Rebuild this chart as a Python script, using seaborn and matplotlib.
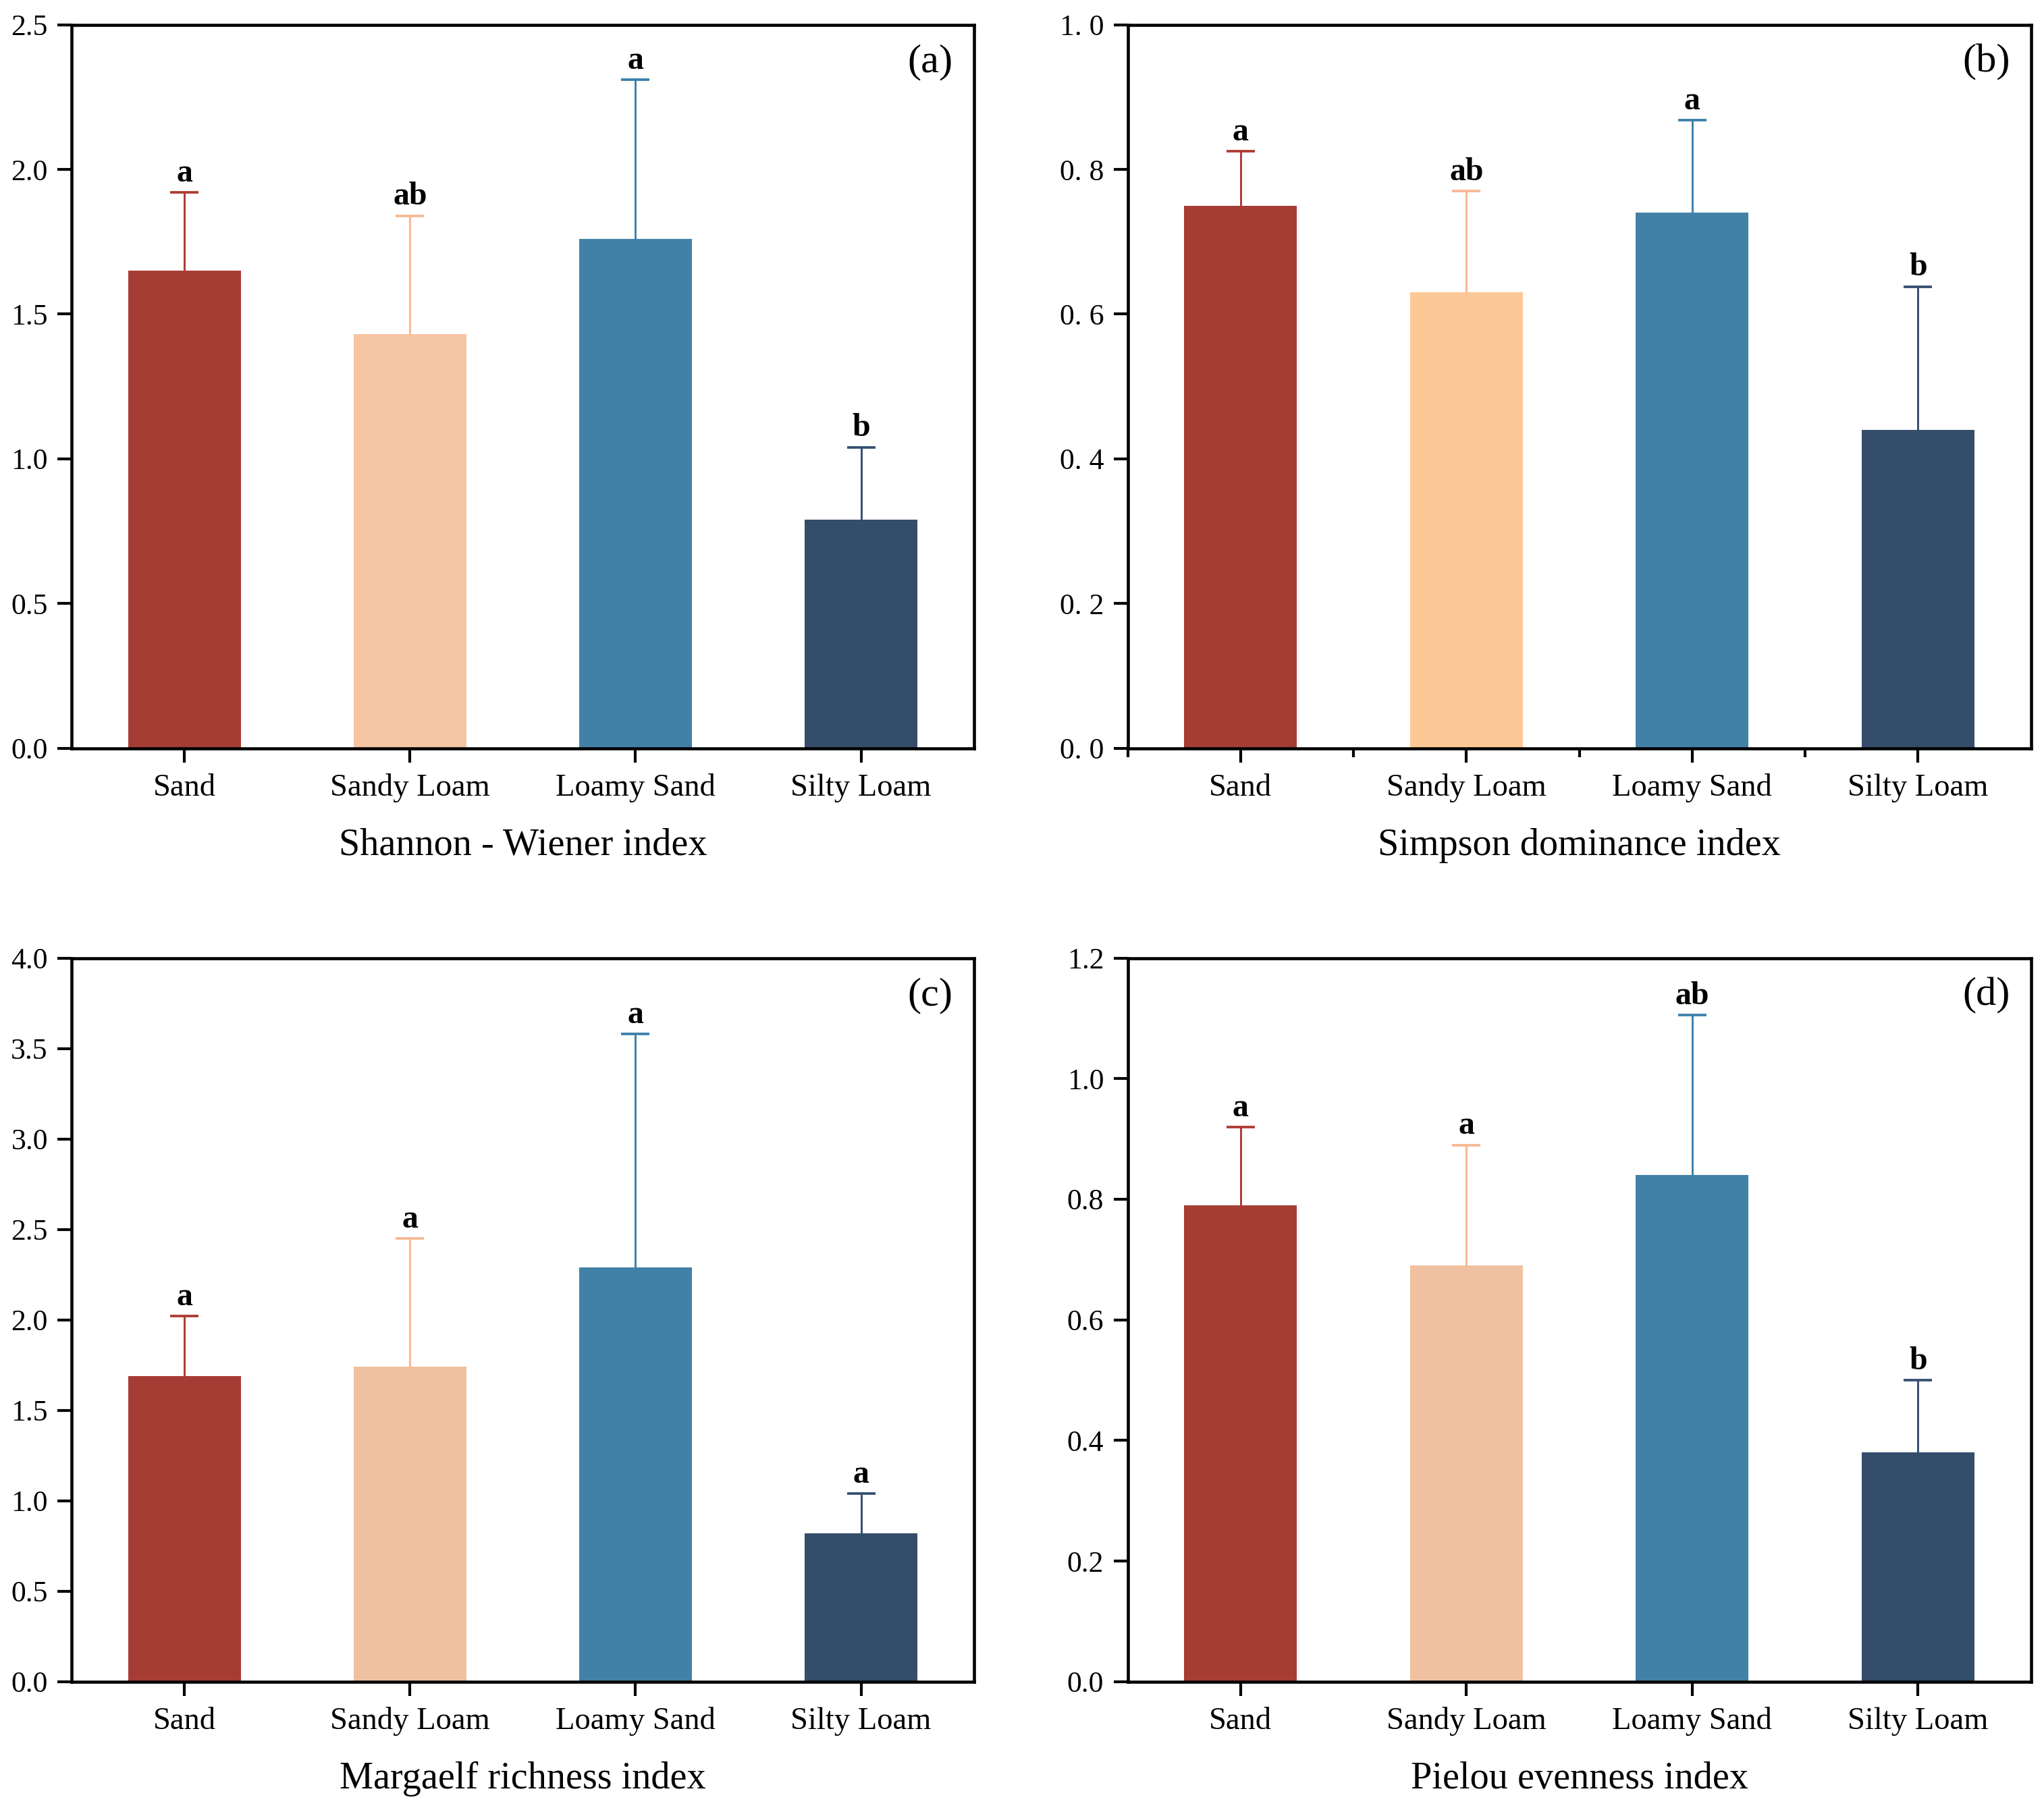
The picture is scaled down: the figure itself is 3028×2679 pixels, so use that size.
import numpy as np
import pandas as pd
import matplotlib
matplotlib.use("Agg")
import matplotlib.pyplot as plt
import seaborn as sns

# soil texture groups
soils = ["Sand", "Sandy Loam", "Loamy Sand", "Silty Loam"]

# mean values and upper error (SD) per index
shannon = [1.65, 1.43, 1.76, 0.79]
shannon_err = [0.27, 0.41, 0.55, 0.25]
shannon_sig = ["a", "ab", "a", "b"]

simpson = [0.75, 0.63, 0.74, 0.44]
simpson_err = [0.075, 0.14, 0.128, 0.198]
simpson_sig = ["a", "ab", "a", "b"]

margalef = [1.69, 1.74, 2.29, 0.82]
margalef_err = [0.33, 0.71, 1.29, 0.22]
margalef_sig = ["a", "a", "a", "a"]

pielou = [0.79, 0.69, 0.84, 0.38]
pielou_err = [0.13, 0.20, 0.265, 0.12]
pielou_sig = ["a", "a", "ab", "b"]

sns.set_style("ticks")
plt.rcParams["font.family"] = ["Liberation Serif", "DejaVu Serif"]
plt.rcParams["text.color"] = "black"
plt.rcParams["axes.labelcolor"] = "black"
plt.rcParams["xtick.color"] = "black"
plt.rcParams["ytick.color"] = "black"

fig = plt.figure(figsize=(3028 / 300, 2679 / 300), dpi=300)

panels = [
    # values, errors, letters, xlabel, tag, ylim, step, rect, peach colour, spaced labels
    (shannon, shannon_err, shannon_sig, "Shannon - Wiener index", "(a)", 2.5, 0.5,
     [0.0351, 0.5862, 0.4413, 0.4001], "#F6C5A3", False),
    (simpson, simpson_err, simpson_sig, "Simpson dominance index", "(b)", 1.0, 0.2,
     [0.5517, 0.5862, 0.4419, 0.4001], "#FCC996", True),
    (margalef, margalef_err, margalef_sig, "Margaelf richness index", "(c)", 4.0, 0.5,
     [0.0351, 0.0699, 0.4413, 0.4002], "#F0C1A0", False),
    (pielou, pielou_err, pielou_sig, "Pielou evenness index", "(d)", 1.2, 0.2,
     [0.5517, 0.0699, 0.4419, 0.4002], "#F0C1A0", False),
]

for vals, errs, sig, xlab, tag, ymax, step, rect, peach, spaced in panels:
    ax = fig.add_axes(rect)
    bar_cols = ["#A63D35", peach, "#4281A6", "#344D6B"]
    err_cols = ["#AE3A31", "#F7B893", "#3A80AA", "#334E70"]
    df = pd.DataFrame({"soil": soils, "value": vals})
    sns.barplot(data=df, x="soil", y="value", hue="soil", palette=bar_cols,
                width=0.5, legend=False, ax=ax, saturation=1, linewidth=0)
    for i in range(len(soils)):
        eb = ax.errorbar(i, vals[i], yerr=[[0], [errs[i]]], color=err_cols[i],
                         elinewidth=0.7, capsize=5, capthick=0.9, zorder=3)
        # only the upper cap is drawn in the original
        eb[1][0].set_visible(False)
        ax.annotate(sig[i], (i, vals[i] + errs[i]), xytext=(0, 1.5),
                    textcoords="offset points", ha="center", va="bottom",
                    fontsize=11.5, fontweight="bold")
    ax.set_xlim(-0.5, 3.5)
    ax.set_ylim(0, ymax)
    ticks = np.arange(0, ymax + step / 2, step)
    ax.set_yticks(ticks)
    if spaced:
        ax.set_yticklabels([f"{t:.1f}".replace(".", ". ") for t in ticks])
        ax.set_xticks([-0.5, 0.5, 1.5, 2.5], minor=True)
        ax.tick_params(axis="x", which="minor", length=3, width=1.0,
                       direction="out", bottom=True)
    else:
        ax.set_yticklabels([f"{t:.1f}" for t in ticks])
    ax.tick_params(axis="both", which="major", length=5, width=1.0,
                   labelsize=10.5, direction="out")
    ax.tick_params(axis="x", labelsize=11.2, pad=4)
    ax.set_ylabel("")
    ax.set_xlabel(xlab, fontsize=13.5, labelpad=9)
    for s in ax.spines.values():
        s.set_linewidth(1.1)
        s.set_color("black")
    ax.text(0.977, 0.948, tag, transform=ax.transAxes, ha="right", va="center",
            fontsize=14.5)

fig.savefig("out.png", dpi=300)
